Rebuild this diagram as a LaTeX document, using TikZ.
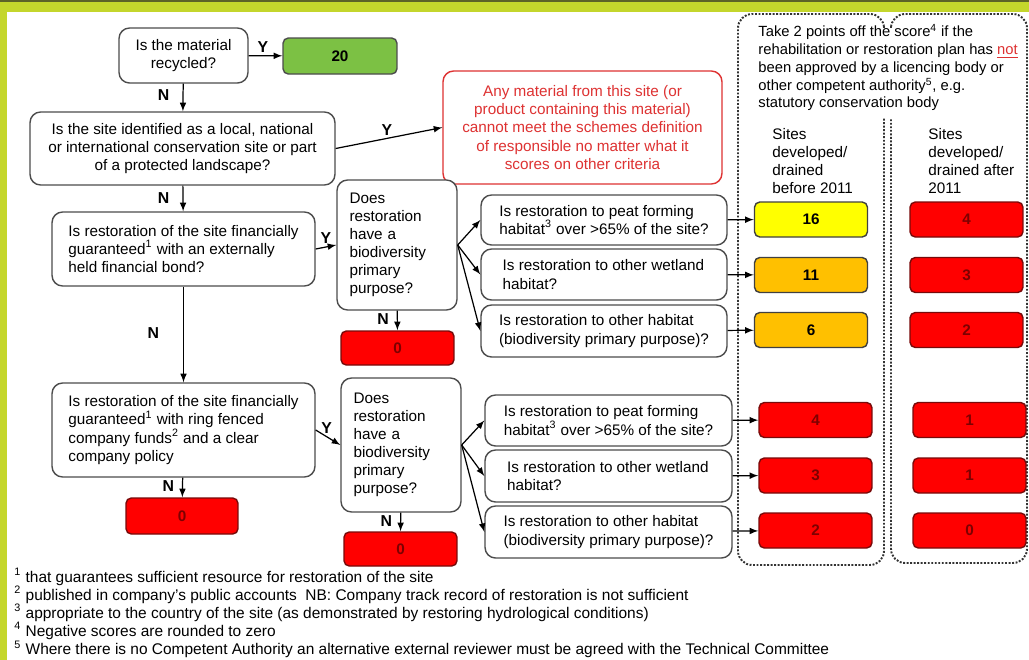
\documentclass[tikz,border=0pt]{standalone}
\usepackage{fontspec}
\setmainfont{Liberation Sans}
\usepackage{tikz}
\definecolor{limegreen}{RGB}{196,214,44}
\definecolor{darkolive}{RGB}{92,98,40}
\definecolor{scgreen}{RGB}{124,193,68}
\definecolor{scyellow}{RGB}{255,255,0}
\definecolor{scorange}{RGB}{255,192,0}
\definecolor{scred}{RGB}{255,0,0}
\definecolor{scredline}{RGB}{120,10,10}
\definecolor{scredtext}{RGB}{125,0,0}
\definecolor{warnred}{RGB}{222,50,50}
\newcommand{\fn}[1]{\smash{\textsuperscript{#1}}}

\begin{document}
\begin{tikzpicture}[x=0.02cm,y=-0.02cm,>=latex,line width=0.7pt,
  font=\fontsize{8.7pt}{10.3pt}\selectfont,
  qbox/.style={draw=black!70,line width=0.8pt,rounded corners=6pt,fill=white,align=center,inner sep=2pt},
  sbox/.style={draw=black!75,line width=0.8pt,rounded corners=3pt,font=\fontsize{8.7pt}{10pt}\selectfont\bfseries,minimum width=2.26cm,minimum height=0.7cm},
  redscore/.style={sbox,fill=scred,draw=scredline,text=scredtext}]
\tikzstyle{lab} = [font=\fontsize{9pt}{10pt}\selectfont\bfseries,inner sep=1.5pt]
\tikzstyle{dotline} = [draw=black!80,line width=1.1pt,dash pattern=on 1.1pt off 0.9pt,rounded corners=8pt]
\useasboundingbox (0,0) rectangle (1029,660);

% Frame
\fill[limegreen] (0,0) rectangle (1029,660);
\fill[darkolive] (0,0) rectangle (1029,2);
\fill[white] (7,12) rectangle (1029,660);

% Dotted score columns
\draw[dotline] (884,26) -- (884,14) -- (738,14) -- (738,565) -- (884,565) -- (884,118);
\draw[dotline] (891,26) -- (891,14) -- (1027,14) -- (1027,563) -- (891,563) -- (891,118);

% Questions, left column
\node[qbox,minimum width=2.58cm,minimum height=1.1cm] (recycled) at (183.5,55.5) {Is the material\\recycled?};
\node[sbox,fill=scgreen,draw=black!70,minimum width=2.28cm,minimum height=0.72cm] (score20) at (340,56) {20};
\node[qbox,minimum width=6.1cm,minimum height=1.46cm] (consite) at (182.5,148.5) {Is the site identified as a local, national\\or international conservation site or part\\of a protected landscape?};
\node[qbox,draw=warnred,text=warnred,minimum width=5.58cm,minimum height=2.26cm] (notresp) at (582.5,127.5) {Any material from this site (or\\product containing this material)\\cannot meet the schemes definition\\of responsible no matter what it\\scores on other criteria};
\node[qbox,align=left,minimum width=5.26cm,minimum height=1.48cm] (bond) at (183.5,249) {Is restoration of the site financially\\guaranteed\fn{1} with an externally\\held financial bond?};
\node[qbox,align=left,minimum width=5.26cm,minimum height=1.88cm] (ring) at (183.5,430) {Is restoration of the site financially\\guaranteed\fn{1} with ring fenced\\company funds\fn{2} and a clear\\company policy};
\node[redscore,minimum width=2.24cm,minimum height=0.72cm] (zero2) at (182,516) {0};

% Biodiversity purpose
\node[qbox,align=left,text width=1.9cm,minimum width=2.4cm,minimum height=2.6cm] (bio1) at (397,245) {Does\\restoration\\have a\\biodiversity\\primary\\purpose?};
\node[redscore,minimum height=0.68cm] (zero1) at (397.5,348) {0};
\node[qbox,align=left,text width=1.9cm,minimum width=2.4cm,minimum height=2.68cm] (bio2) at (401,445) {Does\\restoration\\have a\\biodiversity\\primary\\purpose?};
\node[redscore,minimum height=0.68cm] (zero3) at (400.5,549) {0};

% Habitat questions
\node[qbox,align=left,minimum width=4.92cm,minimum height=1.0cm] (peat1) at (604,220) {Is restoration to peat forming\\habitat\fn{3} over >65\% of the site?};
\node[qbox,align=left,minimum width=4.92cm,minimum height=1.02cm] (wet1) at (604,274.5) {Is restoration to other wetland\\habitat?\phantom{ over >65\% of the site}};
\node[qbox,align=left,minimum width=4.92cm,minimum height=1.04cm] (other1) at (604,331) {Is restoration to other habitat\\(biodiversity primary purpose)?};
\node[qbox,align=left,minimum width=4.94cm,minimum height=1.02cm] (peat2) at (608.5,420.5) {Is restoration to peat forming\\habitat\fn{3} over >65\% of the site?};
\node[qbox,align=left,minimum width=4.94cm,minimum height=1.04cm] (wet2) at (608.5,476) {Is restoration to other wetland\\habitat?\phantom{ over >65\% of the site}};
\node[qbox,align=left,minimum width=4.94cm,minimum height=1.04cm] (other2) at (608.5,532) {Is restoration to other habitat\\(biodiversity primary purpose)?};

% Scores
\node[anchor=west,align=left,font=\fontsize{8.4pt}{10.1pt}\selectfont] (takeoff) at (752,68.5) {Take 2 points off the score\fn{4} if the\\rehabilitation or restoration plan has \textcolor{warnred}{\underline{not}}\\been approved by a licencing body or\\other competent authority\fn{5}, e.g.\\statutory conservation body};
\node[anchor=west,align=left] (before) at (766,161) {Sites\\developed/\\drained\\before 2011};
\node[anchor=west,align=left] (after) at (922,161) {Sites\\developed/\\drained after\\2011};
\node[sbox,fill=scyellow] (s16) at (811,219.5) {16};
\node[sbox,fill=scorange] (s11) at (811,275) {11};
\node[sbox,fill=scorange] (s6) at (811,330) {6};
\node[redscore] (a4) at (966.5,219.5) {4};
\node[redscore] (a3) at (966.5,275) {3};
\node[redscore] (a2) at (966.5,330) {2};
\node[redscore] (b4) at (815.5,420) {4};
\node[redscore] (b3) at (815.5,475.5) {3};
\node[redscore] (b2) at (815.5,530.5) {2};
\node[redscore] (c1) at (969.5,420) {1};
\node[redscore] (c1b) at (969.5,475.5) {1};
\node[redscore] (c0) at (969.5,530.5) {0};

% Draw arrows
\draw[->] (recycled) -- node[lab,above,pos=0.42] (y1) {Y} (score20);
\draw[->] (recycled) -- node[lab,left=6pt,pos=0.4] (n1) {N} (consite);
\draw[->] (consite.east) -- node[lab,above,pos=0.48] (y2) {Y} (notresp.west);
\draw[->] (consite) -- node[lab,left=6pt,pos=0.5] (n2) {N} (bond);
\draw[->] (bond.east) -- node[lab,above,pos=0.5] (y3) {Y} (bio1.west);
\draw[->] (bio1) -- node[lab,left=3pt,pos=0.45] (n3) {N} (zero1);
\draw[->] (bond) -- node[lab,left=12pt,pos=0.48] (n4) {N} (ring);
\draw[->] (ring.east) -- node[lab,above,pos=0.45] (y4) {Y} (bio2.west);
\draw[->] (ring) -- node[lab,left=3pt,pos=0.45] (n5) {N} (zero2);
\draw[->] (bio2) -- node[lab,left=3pt,pos=0.45] (n6) {N} (zero3);
\foreach \q in {peat1,wet1,other1} \draw[->] (bio1.east) -- (\q.west);
\foreach \q in {peat2,wet2,other2} \draw[->] (bio2.east) -- (\q.west);
\draw[->] (peat1) -- (s16);
\draw[->] (wet1) -- (s11);
\draw[->] (other1) -- (s6);
\draw[->] (peat2) -- (b4);
\draw[->] (wet2) -- (b3);
\draw[->] (other2) -- (b2);

% Footnotes
\node[anchor=west,align=left,font=\fontsize{8.8pt}{10.35pt}\selectfont] (notes) at (8,614.5) {\fn{1} that guarantees sufficient resource for restoration of the site\\\fn{2} published in company's public accounts\ \ NB: Company track record of restoration is not sufficient\\\fn{3} appropriate to the country of the site (as demonstrated by restoring hydrological conditions)\\\fn{4} Negative scores are rounded to zero\\\fn{5} Where there is no Competent Authority an alternative external reviewer must be agreed with the Technical Committee};
\end{tikzpicture}
\end{document}
